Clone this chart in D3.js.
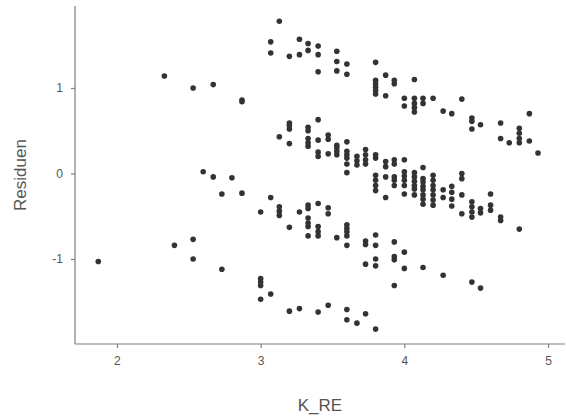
<!DOCTYPE html>
<html>
<head>
<meta charset="utf-8">
<script src="https://cdn.jsdelivr.net/npm/d3@7"></script>
<style>
  html, body { margin: 0; padding: 0; background: #fff; }
  svg { display: block; }
</style>
</head>
<body>
<svg id="chart" width="566" height="419"></svg>
<script>
// K_RE values (x) and residuals (y), read column by column
const kre = [
  1.87,
  2.33,
  2.40,
  2.53, 2.53, 2.53,
  2.60,
  2.67, 2.67,
  2.73, 2.73,
  2.80,
  2.87, 2.87, 2.87,
  3.00, 3.00, 3.00, 3.00, 3.00,
  3.07, 3.07, 3.07, 3.07,
  3.13, 3.13, 3.13, 3.13, 3.13,
  3.20, 3.20, 3.20, 3.20, 3.20, 3.20, 3.20,
  3.27, 3.27, 3.27, 3.27,
  3.33, 3.33, 3.33, 3.33, 3.33, 3.33, 3.33, 3.33, 3.33, 3.33, 3.33, 3.33, 3.33,
  3.40, 3.40, 3.40, 3.40, 3.40, 3.40, 3.40, 3.40, 3.40, 3.40, 3.40, 3.40,
  3.47, 3.47, 3.47, 3.47, 3.47, 3.47,
  3.53, 3.53, 3.53, 3.53, 3.53, 3.53, 3.53, 3.53,
  3.60, 3.60, 3.60, 3.60, 3.60, 3.60, 3.60, 3.60, 3.60, 3.60, 3.60, 3.60, 3.60, 3.60, 3.60,
  3.67, 3.67, 3.67, 3.67,
  3.73, 3.73, 3.73, 3.73, 3.73, 3.73, 3.73, 3.73,
  3.80, 3.80, 3.80, 3.80, 3.80, 3.80, 3.80, 3.80, 3.80, 3.80, 3.80, 3.80, 3.80, 3.80, 3.80, 3.80, 3.80,
  3.87, 3.87, 3.87, 3.87, 3.87, 3.87,
  3.93, 3.93, 3.93, 3.93, 3.93, 3.93, 3.93, 3.93, 3.93, 3.93, 3.93,
  4.00, 4.00, 4.00, 4.00, 4.00, 4.00, 4.00, 4.00, 4.00, 4.00,
  4.07, 4.07, 4.07, 4.07, 4.07, 4.07, 4.07, 4.07, 4.07, 4.07, 4.07,
  4.13, 4.13, 4.13, 4.13, 4.13, 4.13, 4.13, 4.13, 4.13, 4.13, 4.13,
  4.20, 4.20, 4.20, 4.20, 4.20, 4.20, 4.20, 4.20,
  4.27, 4.27, 4.27, 4.27,
  4.33, 4.33, 4.33, 4.33, 4.33,
  4.40, 4.40, 4.40, 4.40, 4.40,
  4.47, 4.47, 4.47, 4.47, 4.47, 4.47, 4.47, 4.47,
  4.53, 4.53, 4.53, 4.53,
  4.60, 4.60, 4.60,
  4.67, 4.67, 4.67, 4.67,
  4.73,
  4.80, 4.80, 4.80, 4.80, 4.80,
  4.87, 4.87,
  4.93
];
const residuen = [
  -1.03,
  1.14,
  -0.84,
  1.00, -0.77, -1.00,
  0.02,
  1.04, -0.04,
  -0.24, -1.12,
  -0.05,
  0.86, 0.84, -0.23,
  -0.45, -1.23, -1.27, -1.31, -1.47,
  1.54, 1.41, -0.28, -1.41,
  1.78, 0.43, -0.39, -0.44, -0.49,
  1.37, 0.59, 0.56, 0.52, 0.35, -0.63, -1.61,
  1.57, 1.39, -0.45, -1.58,
  1.52, 1.44, 0.54, 0.50, 0.41, 0.36, 0.32, -0.37, -0.41, -0.52, -0.58, -0.62, -0.73,
  1.49, 1.39, 1.19, 0.63, 0.39, 0.25, 0.20, -0.35, -0.62, -0.68, -0.73, -1.62,
  0.45, 0.40, 0.23, -0.40, -0.47, -1.54,
  1.43, 1.31, 1.20, 0.33, 0.30, 0.26, 0.22, -0.75,
  1.28, 1.16, 0.37, 0.26, 0.22, 0.18, 0.11, 0.01, -0.60, -0.64, -0.68, -0.73, -0.84, -1.59, -1.71,
  0.20, 0.15, 0.10, -1.75,
  0.28, 0.22, 0.16, 0.11, -0.79, -0.83, -1.06, -1.64,
  1.30, 1.09, 1.05, 1.01, 0.97, 0.93, 0.22, 0.18, -0.02, -0.08, -0.14, -0.20, -0.72, -0.84, -1.00, -1.08, -1.82,
  1.15, 0.91, 0.14, 0.08, -0.04, -0.28,
  1.09, 1.05, 0.16, 0.11, -0.04, -0.08, -0.14, -0.80, -0.97, -1.01, -1.31,
  0.88, 0.79, 0.16, 0.02, -0.03, -0.08, -0.14, -0.24, -0.92, -1.11,
  1.10, 0.88, 0.82, 0.77, 0.72, 0.01, -0.04, -0.09, -0.14, -0.18, -0.25,
  0.88, 0.82, 0.07, -0.06, -0.10, -0.15, -0.19, -0.25, -0.30, -0.36, -1.10,
  0.88, -0.02, -0.08, -0.14, -0.19, -0.25, -0.31, -0.37,
  0.73, -0.19, -0.28, -1.19,
  0.70, -0.15, -0.22, -0.30, -0.38,
  0.87, 0.00, -0.06, -0.25, -0.47,
  0.65, 0.61, 0.52, -0.33, -0.39, -0.45, -0.51, -1.27,
  0.57, -0.41, -0.46, -1.34,
  -0.24, -0.37, -0.43,
  0.59, 0.41, -0.51, -0.55,
  0.36,
  0.53, 0.47, 0.41, 0.36, -0.65,
  0.70, 0.38,
  0.24
];
const xTicks = [2, 3, 4, 5];
const yTicks = [-1, 0, 1];
const xTitle = "K_RE";
const yTitle = "Residuen";

(function () {
  const points = kre.map((k, i) => ({ x: k, y: residuen[i] }));

  const svg = d3.select("#chart");
  const pl = 75, pr = 565, pt = 6, pb = 344;

  const x = d3.scaleLinear().domain([1.708, 5.118]).range([pl, pr]);
  const y = d3.scaleLinear().domain([-1.994, 1.959]).range([pb, pt]);

  const axisColor = "#7f7f7f";
  const textColor = "#555555";
  const font = "Liberation Sans, Arial, sans-serif";
  const fmt = d => String(d);

  // points
  svg.append("g")
    .selectAll("circle")
    .data(points)
    .join("circle")
    .attr("cx", d => x(d.x))
    .attr("cy", d => y(d.y))
    .attr("r", 2.8)
    .attr("fill", "#333333");

  // x axis
  const xAxis = svg.append("g")
    .attr("transform", `translate(0,${pb})`)
    .call(d3.axisBottom(x).tickValues(xTicks).tickSize(4).tickPadding(8).tickFormat(fmt));
  xAxis.select(".domain").attr("stroke", axisColor).attr("stroke-width", 1.2)
    .attr("d", `M${pl},0H${pr}`);
  xAxis.selectAll(".tick line").attr("stroke", axisColor).attr("stroke-width", 1.2);
  xAxis.selectAll(".tick text").attr("fill", textColor)
    .style("font-family", font).style("font-size", "12px");

  // y axis
  const yAxis = svg.append("g")
    .attr("transform", `translate(${pl},0)`)
    .call(d3.axisLeft(y).tickValues(yTicks).tickSize(4).tickPadding(8).tickFormat(fmt));
  yAxis.select(".domain").attr("stroke", axisColor).attr("stroke-width", 1.2)
    .attr("d", `M0,${pt}V${pb}`);
  yAxis.selectAll(".tick line").attr("stroke", axisColor).attr("stroke-width", 1.2);
  yAxis.selectAll(".tick text").attr("fill", textColor)
    .style("font-family", font).style("font-size", "12px");

  // titles
  svg.append("text")
    .attr("x", (pl + pr) / 2)
    .attr("y", 411)
    .attr("text-anchor", "middle")
    .attr("fill", textColor)
    .style("font-family", font)
    .style("font-size", "17px")
    .text(xTitle);

  svg.append("text")
    .attr("transform", `translate(26,${(pt + pb) / 2}) rotate(-90)`)
    .attr("text-anchor", "middle")
    .attr("fill", textColor)
    .style("font-family", font)
    .style("font-size", "17px")
    .text(yTitle);
})();
</script>
</body>
</html>
